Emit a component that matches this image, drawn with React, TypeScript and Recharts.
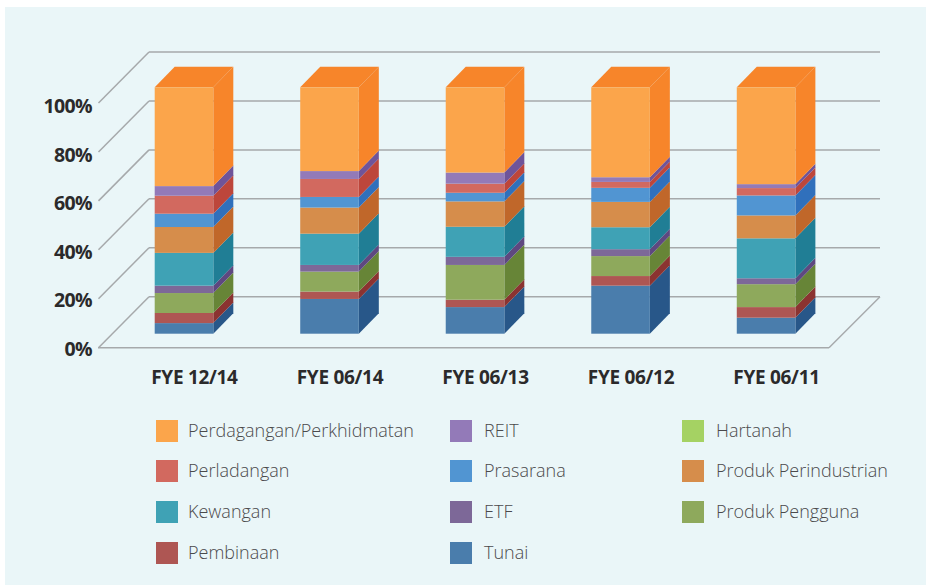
import React from 'react'
import { BarChart, Bar, XAxis, YAxis, CartesianGrid } from 'recharts'

const categories = ['FYE 12/14', 'FYE 06/14', 'FYE 06/13', 'FYE 06/12', 'FYE 06/11']
const yTicks = [0, 20, 40, 60, 80, 100]

const tunai = [4.3, 14.1, 10.8, 19.5, 6.5]
const pembinaan = [4.1, 3.0, 3.0, 3.9, 4.3]
const produkPengguna = [8.1, 8.1, 14.1, 8.1, 9.3]
const etf = [3.0, 2.7, 3.3, 2.8, 2.4]
const kewangan = [13.3, 12.7, 12.2, 8.9, 16.2]
const produkPerindustrian = [10.5, 10.6, 10.3, 10.3, 9.3]
const prasarana = [5.4, 4.3, 3.5, 5.7, 8.1]
const perladangan = [7.3, 7.3, 3.7, 2.4, 3.0]
const hartanah = [0, 0, 0, 0, 0]
const reit = [3.9, 3.2, 4.5, 1.9, 1.6]
const perdagangan = [40.1, 34.0, 34.6, 36.5, 39.3]

// stacked bottom to top
const series = [
  { key: 'Tunai', values: tunai, front: '#4a7dac', side: '#285789' },
  { key: 'Pembinaan', values: pembinaan, front: '#ae5653', side: '#8b3331' },
  { key: 'Produk Pengguna', values: produkPengguna, front: '#8ea95c', side: '#678537' },
  { key: 'ETF', values: etf, front: '#7d6898', side: '#5e4880' },
  { key: 'Kewangan', values: kewangan, front: '#3fa2b5', side: '#207e95' },
  { key: 'Produk Perindustrian', values: produkPerindustrian, front: '#d68d4b', side: '#c0672a' },
  { key: 'Prasarana', values: prasarana, front: '#5195d2', side: '#3070bc' },
  { key: 'Perladangan', values: perladangan, front: '#d2695f', side: '#bd463b' },
  { key: 'Hartanah', values: hartanah, front: '#a5d263', side: '#82ae40' },
  { key: 'REIT', values: reit, front: '#937ab8', side: '#6f5499' },
  { key: 'Perdagangan/Perkhidmatan', values: perdagangan, front: '#fba54b', side: '#f7852a' },
]

const chartData = categories.map((name, i) => {
  const row: any = { name }
  series.forEach((s) => {
    row[s.key] = s.values[i]
  })
  return row
})

// legend reads left to right, one row at a time
const legendOrder = [
  ['Perdagangan/Perkhidmatan', 'REIT', 'Hartanah'],
  ['Perladangan', 'Prasarana', 'Produk Perindustrian'],
  ['Kewangan', 'ETF', 'Produk Pengguna'],
  ['Pembinaan', 'Tunai'],
]
const legendColX = [156, 450, 682]
const legendTextX = [188, 484, 716]
const legendRowY = [420, 460, 501, 542]

const W = 926
const H = 585
const plotLeft = 111.7
const plotRight = 839.3
const plotTop = 87.3
const plotBottom = 333.7
const axisWidth = 60
const axisHeight = 60

const DEPTH_X = 20
const DEPTH_Y = 20.5
const wallScale = 244.7 / 246.4
const labelScale = 242.5 / 246.4
const gridColor = '#a6a9ab'
const textDark = '#2b2a2b'

const makeBar3D = (front: string, side: string, withTop: boolean) => (props: any) => {
  const { x, y, width, height } = props
  if (!height || height <= 0) return <g />
  return (
    <g>
      <path
        d={`M${x + width},${y}L${x + width + DEPTH_X},${y - DEPTH_Y}L${x + width + DEPTH_X},${y + height - DEPTH_Y}L${x + width},${y + height}Z`}
        fill={side}
      />
      {withTop && (
        <path
          d={`M${x},${y}L${x + DEPTH_X},${y - DEPTH_Y}L${x + width + DEPTH_X},${y - DEPTH_Y}L${x + width},${y}Z`}
          fill={side}
        />
      )}
      <rect x={x} y={y} width={width} height={height} fill={front} />
    </g>
  )
}

// each horizontal grid tick becomes the back wall line plus the diagonal coming out of it
const GridLine3D = (props: any) => {
  const y = props.y1
  const rise = (plotBottom - y) * wallScale
  const backY = 296.7 - rise
  const frontY = 347.7 - rise
  const isFloor = Math.abs(y - plotBottom) < 1
  return (
    <g stroke={gridColor} strokeWidth={1.5} fill="none">
      <line x1={98.5} y1={frontY} x2={149} y2={backY} />
      <line x1={149} y1={backY} x2={880} y2={backY} />
      {isFloor && <line x1={98} y1={frontY} x2={829} y2={frontY} />}
      {isFloor && <line x1={829} y1={frontY} x2={880} y2={backY} />}
    </g>
  )
}

const YTick = (props: any) => (
  <text
    x={92}
    y={355.5 - (plotBottom - props.y) * labelScale}
    textAnchor="end"
    fontFamily="Open Sans"
    fontWeight={700}
    fontSize={19.5}
    letterSpacing={-0.6}
    fill={textDark}
  >
    {props.payload.value}%
  </text>
)

const XTick = (props: any) => (
  <text
    x={props.x + 10}
    y={383.5}
    textAnchor="middle"
    fontFamily="Open Sans"
    fontWeight={700}
    fontSize={19}
    letterSpacing={-0.3}
    fill={textDark}
  >
    {props.payload.value}
  </text>
)

const Legend3D = () => (
  <>
    {legendOrder.map((row, r) =>
      row.map((name, c) => {
        const s = series.find((item) => item.key === name)!
        return (
          <React.Fragment key={name}>
            <div
              style={{
                position: 'absolute',
                left: legendColX[c],
                top: legendRowY[r],
                width: 22,
                height: 22,
                background: s.front,
              }}
            />
            <div
              style={{
                position: 'absolute',
                left: legendTextX[c],
                top: legendRowY[r] - 5,
                height: 30,
                lineHeight: '30px',
                fontFamily: 'Open Sans',
                fontWeight: 300,
                fontSize: 18,
                color: '#4a4a4c',
                whiteSpace: 'nowrap',
              }}
            >
              {name}
            </div>
          </React.Fragment>
        )
      }),
    )}
  </>
)

export default function App() {
  return (
    <div style={{ position: 'absolute', left: 0, top: 0, width: W, height: H, background: '#fff', overflow: 'hidden' }}>
      <div style={{ position: 'absolute', left: 5, top: 7, right: 0, bottom: 0, background: '#eaf6f8' }} />
      <div style={{ position: 'absolute', left: 0, top: 0 }}>
        <BarChart
          width={W}
          height={H}
          data={chartData}
          barSize={58.6}
          margin={{
            top: plotTop,
            right: W - plotRight,
            bottom: H - plotBottom - axisHeight,
            left: plotLeft - axisWidth,
          }}
        >
          <CartesianGrid vertical={false} horizontal={(p: any) => <GridLine3D key={p.y1} {...p} />} />
          <XAxis dataKey="name" axisLine={false} tickLine={false} tick={XTick} interval={0} height={axisHeight} />
          <YAxis
            type="number"
            domain={[0, 100]}
            ticks={yTicks}
            axisLine={false}
            tickLine={false}
            tick={YTick}
            width={axisWidth}
          />
          {series.map((s, i) => (
            <Bar
              key={s.key}
              dataKey={s.key}
              stackId="total"
              fill={s.front}
              isAnimationActive={false}
              shape={makeBar3D(s.front, s.side, i === series.length - 1)}
            />
          ))}
        </BarChart>
      </div>
      <Legend3D />
    </div>
  )
}
